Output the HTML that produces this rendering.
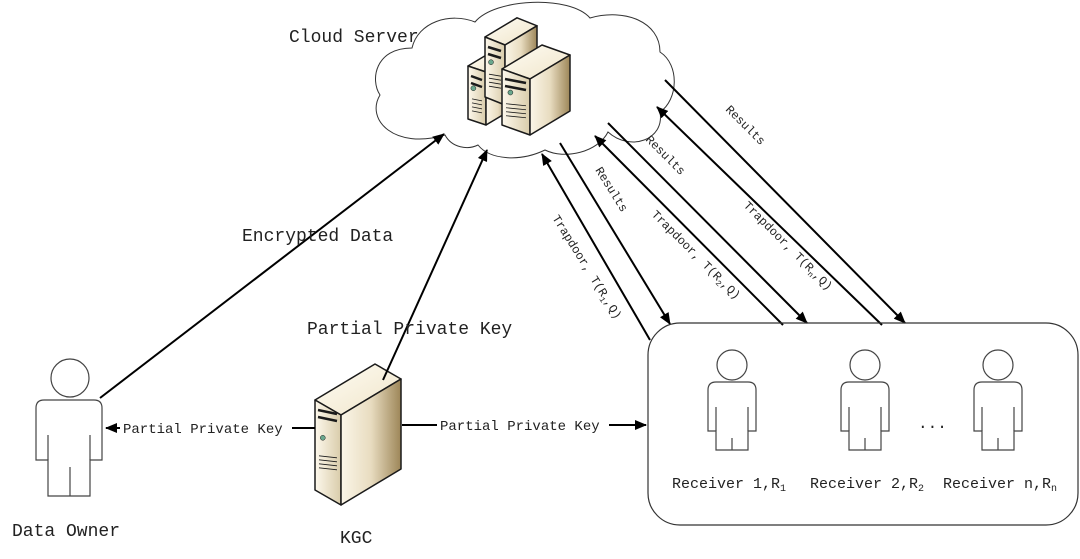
<!DOCTYPE html>
<html><head><meta charset="utf-8"><style>
html,body{margin:0;padding:0;background:#fff;}
svg{display:block;}
text{font-family:"Liberation Mono","Noto Serif CJK SC",monospace;fill:#222;}
</style></head><body>
<svg id="s" width="1080" height="559" viewBox="0 0 1080 559" xmlns="http://www.w3.org/2000/svg">
<defs>
<marker id="ah" markerWidth="12" markerHeight="10" refX="11" refY="5" orient="auto" markerUnits="userSpaceOnUse">
<path d="M0,0 L12,5 L0,10 z" fill="#000"/></marker>
<linearGradient id="gf" x1="0" y1="0" x2="1" y2="0"><stop offset="0" stop-color="#fdf8ec"/><stop offset="1" stop-color="#d9ccaa"/></linearGradient>
<linearGradient id="gs" x1="0" y1="0" x2="1" y2="0"><stop offset="0" stop-color="#fbf6e8"/><stop offset="0.5" stop-color="#e8dcc0"/><stop offset="1" stop-color="#9d8658"/></linearGradient>
<linearGradient id="gt" x1="0" y1="0" x2="1" y2="1"><stop offset="0" stop-color="#fffdf5"/><stop offset="1" stop-color="#efe4c8"/></linearGradient>
</defs>

<!-- cloud -->
<path d="M445,135 C395,150 365,120 380,95 C370,80 375,48 412,48 C418,22 450,12 475,22 C495,-2 570,-5 590,18 C625,8 660,22 660,52 C680,65 678,100 660,112 C665,140 630,152 608,132 C598,152 565,160 545,150 C520,162 490,160 478,145 C468,150 452,148 445,135 Z" fill="#fff" stroke="#333" stroke-width="1"/>
<text x="289" y="42" font-size="18">Cloud Server</text>

<g id="servers"></g>

<!-- arrows -->
<g stroke="#000" stroke-width="2" fill="none">
<line x1="100" y1="398" x2="444" y2="134" marker-end="url(#ah)"/>
<line x1="383" y1="380" x2="487" y2="150" marker-end="url(#ah)"/>
<line x1="315" y1="428" x2="106" y2="428" marker-end="url(#ah)"/>
<line x1="402" y1="425" x2="646" y2="425" marker-end="url(#ah)"/>
<line x1="650" y1="340" x2="542" y2="154" marker-end="url(#ah)"/>
<line x1="560" y1="143" x2="670" y2="324" marker-end="url(#ah)"/>
<line x1="783" y1="325" x2="595" y2="136" marker-end="url(#ah)"/>
<line x1="608" y1="123" x2="807" y2="323" marker-end="url(#ah)"/>
<line x1="882" y1="325" x2="657" y2="107" marker-end="url(#ah)"/>
<line x1="665" y1="80" x2="905" y2="323" marker-end="url(#ah)"/>
</g>
<rect x="120" y="418" width="172" height="18" fill="#fff"/>
<rect x="437" y="415" width="172" height="18" fill="#fff"/>
<text x="123" y="433" font-size="14" fill="#1a2a4a">Partial Private Key</text>
<text x="440" y="430" font-size="14" fill="#1a2a4a">Partial Private Key</text>
<text x="242" y="241" font-size="18">Encrypted Data</text>
<text x="307" y="334" font-size="18">Partial Private Key</text>

<g font-size="12">
<text transform="translate(552,218) rotate(58)">Trapdoor, T(R<tspan font-size="8" dy="3">1</tspan><tspan dy="-3">,Q)</tspan></text>
<text transform="translate(595,170) rotate(58)">Results</text>
<text transform="translate(651,215) rotate(45)">Trapdoor, T(R<tspan font-size="8" dy="3">2</tspan><tspan dy="-3">,Q)</tspan></text>
<text transform="translate(645,140) rotate(45)">Results</text>
<text transform="translate(743,206) rotate(45)">Trapdoor, T(R<tspan font-size="8" dy="3">n</tspan><tspan dy="-3">,Q)</tspan></text>
<text transform="translate(725,110) rotate(45)">Results</text>
</g>

<!-- receiver box -->
<rect x="648" y="323" width="430" height="202" rx="32" fill="none" stroke="#333" stroke-width="1.2"/>
<g id="people" fill="none" stroke="#444" stroke-width="1.2"></g>
<text x="918" y="428" font-size="16">...</text>
<g font-size="15">
<text x="672" y="488">Receiver 1,R<tspan font-size="10" dy="3">1</tspan></text>
<text x="810" y="488">Receiver 2,R<tspan font-size="10" dy="3">2</tspan></text>
<text x="943" y="488">Receiver n,R<tspan font-size="10" dy="3">n</tspan></text>
</g>

<text x="12" y="536" font-size="18">Data Owner</text>
<text x="340" y="543" font-size="18">KGC</text>
</svg>
<script>
var NS="http://www.w3.org/2000/svg";
function el(t,a,p){var e=document.createElementNS(NS,t);for(var k in a)e.setAttribute(k,a[k]);p.appendChild(e);return e;}
var pp=document.getElementById('people');
function person(cx,hy,r,l,rr,top,armB,ll,lr,armT,split,bot){
 el('circle',{cx:cx,cy:hy,r:r},pp);
 var c=8;
 el('path',{d:"M"+ll+","+bot+" L"+ll+","+armB+" L"+l+","+armB+" L"+l+","+(top+c)+" Q"+l+","+top+" "+(l+c)+","+top+" L"+(rr-c)+","+top+" Q"+rr+","+top+" "+rr+","+(top+c)+" L"+rr+","+armB+" L"+lr+","+armB+" L"+lr+","+bot+" Z"},pp);
 el('line',{x1:ll,y1:armT,x2:ll,y2:armB},pp);
 el('line',{x1:lr,y1:armT,x2:lr,y2:armB},pp);
 el('line',{x1:cx,y1:split,x2:cx,y2:bot},pp);
}
person(70,378,19,36,102,400,460,48,90,435,467,496);
[732,865,998].forEach(function(x){person(x,365,15,x-24,x+24,382,431,x-16,x+16,407,438,450);});
var sv=document.getElementById('servers');
function server(x,y,w,h,d){
 var g=el('g',{stroke:'#1a1a1a','stroke-width':1.5,'stroke-linejoin':'round'},sv);
 el('path',{d:"M"+x+","+y+" L"+(x+d)+","+(y-d*0.6)+" L"+(x+w+d)+","+(y-d*0.6+d*0.25)+" L"+(x+w)+","+(y+d*0.25)+" Z",fill:'url(#gt)'},g);
 el('path',{d:"M"+x+","+y+" L"+(x+w)+","+(y+d*0.25)+" L"+(x+w)+","+(y+h+d*0.25)+" L"+x+","+(y+h)+" Z",fill:'url(#gf)'},g);
 el('path',{d:"M"+(x+w)+","+(y+d*0.25)+" L"+(x+w+d)+","+(y-d*0.6+d*0.25)+" L"+(x+w+d)+","+(y+h-d*0.6+d*0.25)+" L"+(x+w)+","+(y+h+d*0.25)+" Z",fill:'url(#gs)'},g);
 el('line',{x1:x+3,y1:y+10,x2:x+w-4,y2:y+14,'stroke-width':2.5},g);
 el('line',{x1:x+3,y1:y+17,x2:x+w-4,y2:y+21,'stroke-width':2.5},g);
 el('circle',{cx:x+w*0.3,cy:y+h*0.42,r:2.5,fill:'#6aa88e','stroke-width':0.5},g);
 for(var i=0;i<4;i++)el('line',{x1:x+4,y1:y+h*0.62+i*4,x2:x+w-4,y2:y+h*0.62+i*4+2,'stroke-width':0.8},g);
}
server(468,66,18,53,24);
server(485,37,20,60,32);
server(502,69,28,56,40);
server(315,400,26,90,60);
</script>
</body></html>
